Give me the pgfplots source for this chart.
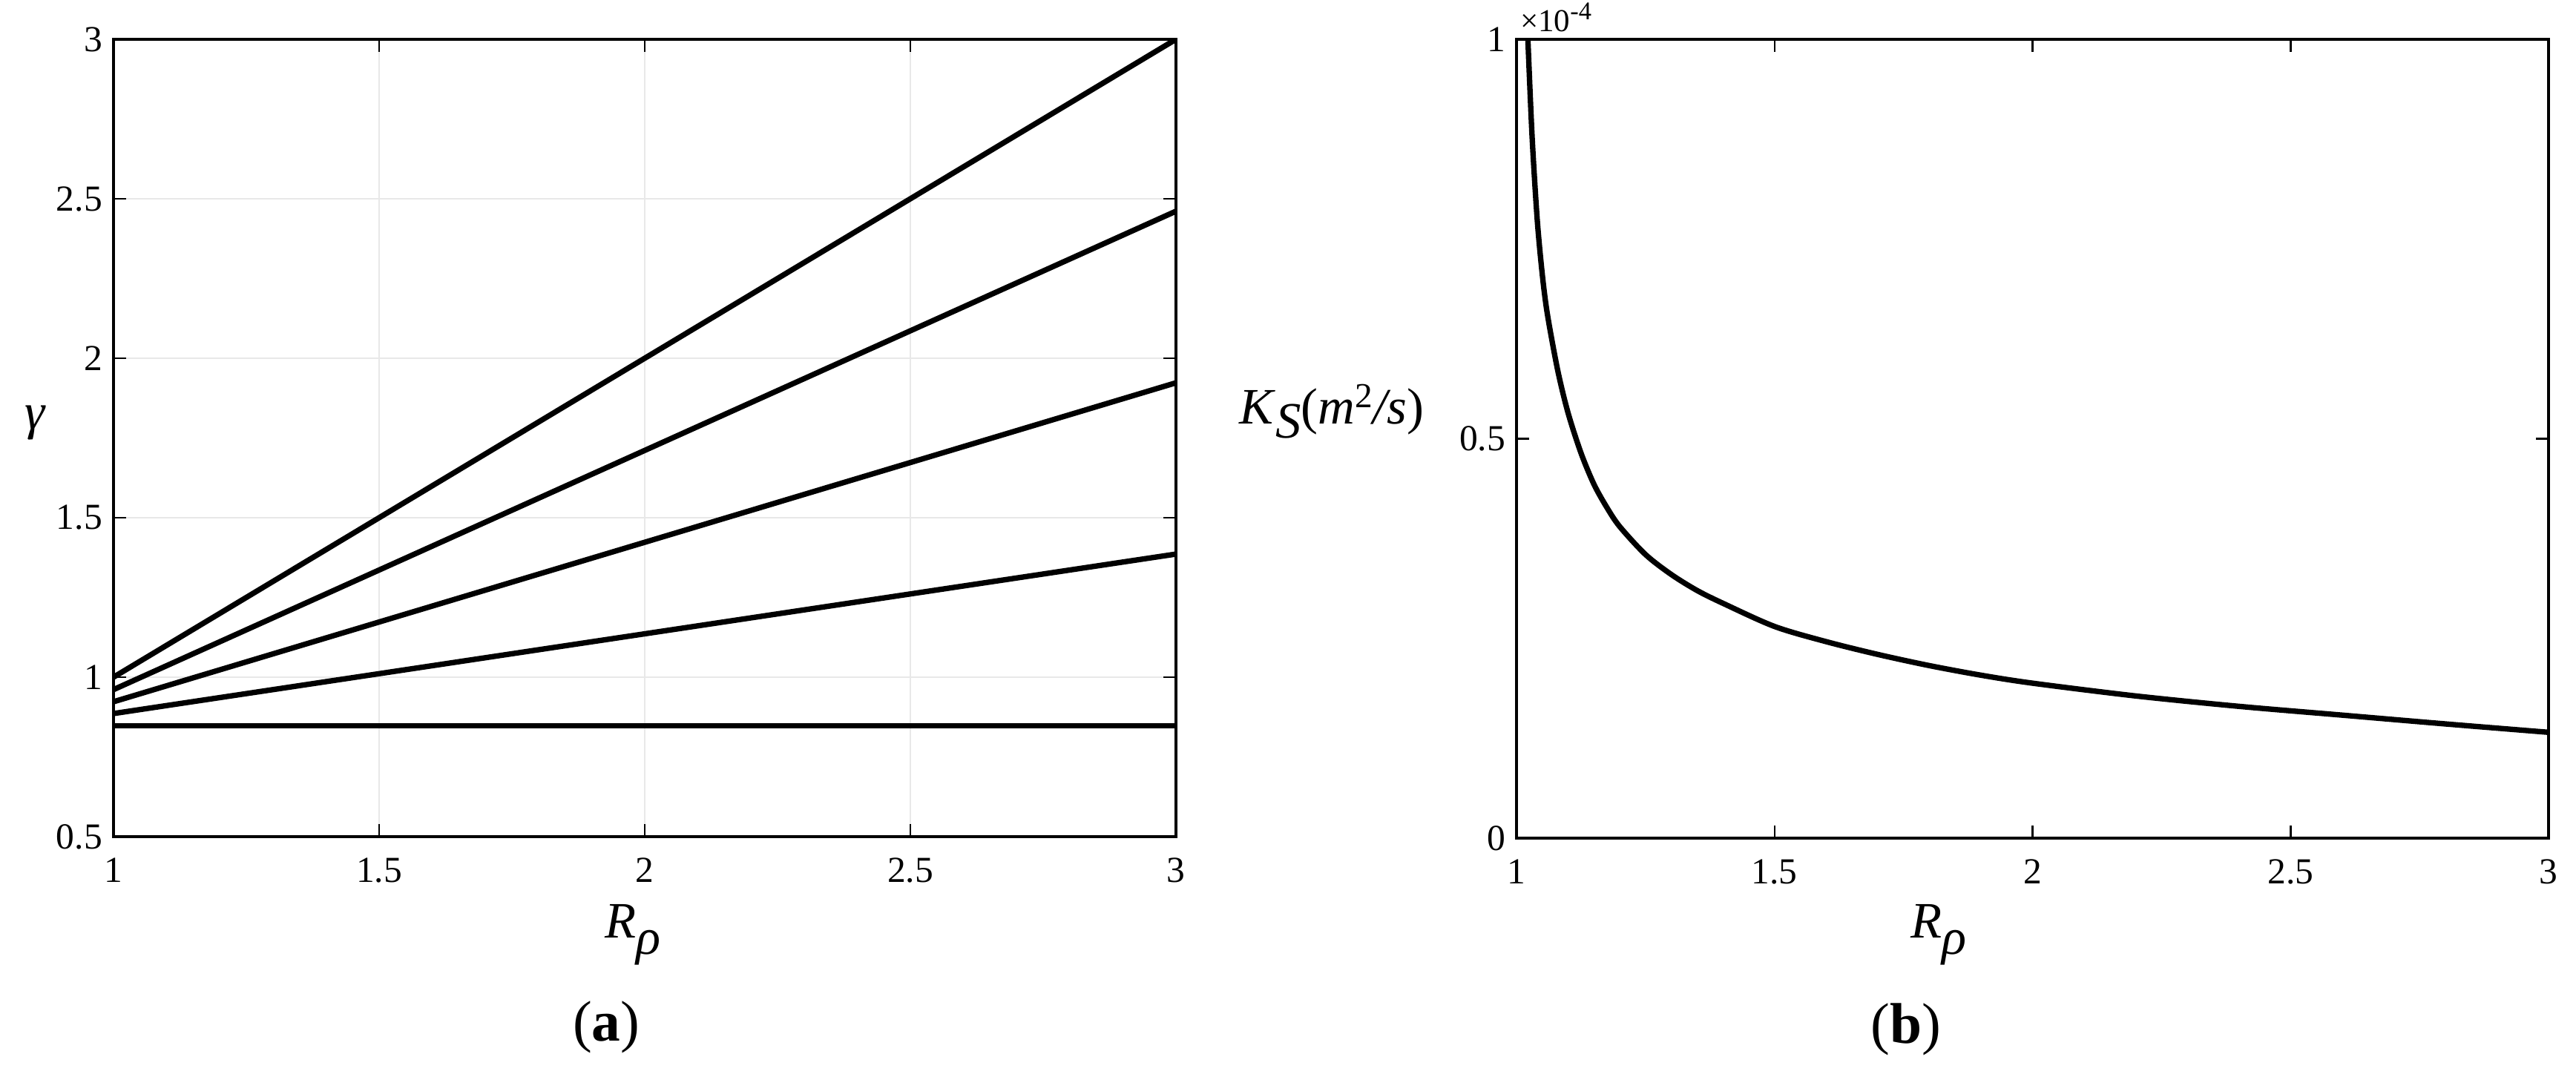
\documentclass[border=0pt]{standalone}
\usepackage{fontspec}
\setmainfont{Liberation Serif}
\usepackage{pgfplots}
\pgfplotsset{compat=1.18}

% both panels share the same frame, ticks and fonts (MATLAB look)
\pgfplotsset{
  panel/.style={
    scale only axis,
    anchor=south west,
    xmin=1, xmax=3,
    xtick={1,1.5,2,2.5,3},
    tick align=inside,
    major tick length=4pt,
    axis line style={line width=0.75pt},
    every tick/.style={black, line width=0.6pt},
    ticklabel style={font=\fontsize{11.5}{13}\selectfont},
    /pgf/number format/assume math mode=true,
    xticklabel style={yshift=-3.2pt},
  },
  curve/.style={black, line width=1.7pt, no markers},
}

\newcommand{\lab}{\fontsize{16}{19}\selectfont}

\begin{document}
\begin{tikzpicture}
\path (0pt,0pt) rectangle (807.24pt,-336.43pt);

% (a) gamma against density ratio
\begin{axis}[panel,
    at={(35.57pt,-262.26pt)}, width=332.94pt, height=249.94pt,
    ymin=0.5, ymax=3,
    ytick={0.5,1,1.5,2,2.5,3},
    grid=major,
    grid style={gray!18, line width=0.5pt},
  ]
  \addplot[curve] coordinates {(1,1.000)(3,3.000)};
  \addplot[curve] coordinates {(1,0.961)(3,2.461)};
  \addplot[curve] coordinates {(1,0.923)(3,1.923)};
  \addplot[curve] coordinates {(1,0.886)(3,1.386)};
  \addplot[curve] coordinates {(1,0.848)(3,0.848)};
\end{axis}

% (b) salt diffusivity, values in units of 1e-4 m^2/s
\begin{axis}[panel,
    at={(475.23pt,-262.73pt)}, width=323.41pt, height=250.4pt,
    ymin=0, ymax=1,
    ytick={0,0.5,1},
  ]
  \addplot[curve, smooth] coordinates {
    (1.022,1.000)(1.030,0.880)(1.040,0.775)(1.050,0.705)(1.060,0.655)
    (1.080,0.585)(1.100,0.532)(1.125,0.482)(1.150,0.443)(1.175,0.414)
    (1.200,0.390)(1.250,0.355)(1.300,0.330)(1.350,0.310)(1.400,0.294)
    (1.500,0.265)(1.600,0.246)(1.700,0.230)(1.800,0.216)(1.900,0.204)
    (2.000,0.194)(2.200,0.178)(2.400,0.165)(2.600,0.154)(2.800,0.143)
    (3.000,0.1325)};
\end{axis}

% labels placed as in the figure
\node[font=\lab] at (11.2pt,-132.5pt) {\textit{γ}};
\node[font=\lab, anchor=base west, inner sep=0pt] at (189.5pt,-294pt)
  {\textit{R}\raisebox{-0.7ex}{\textit{ρ}}};
\node[font=\fontsize{18}{21}\selectfont] at (190pt,-322pt) {(\textbf{a})};

\node[font=\lab] at (417.3pt,-129pt)
  {\textit{K}\raisebox{-0.6ex}{\textit{S}}(\textit{m}\raisebox{0.7ex}{\fontsize{11}{12}\selectfont 2}\textit{/s})};
\node[font=\fontsize{10}{12}\selectfont, anchor=base west, inner sep=0pt]
  at (476.2pt,-9.8pt) {×10\raisebox{0.8ex}{\fontsize{8}{10}\selectfont -4}};
\node[font=\lab, anchor=base west, inner sep=0pt] at (598.7pt,-294pt)
  {\textit{R}\raisebox{-0.7ex}{\textit{ρ}}};
\node[font=\fontsize{18}{21}\selectfont] at (597.3pt,-322.7pt) {(\textbf{b})};
\end{tikzpicture}
\end{document}
